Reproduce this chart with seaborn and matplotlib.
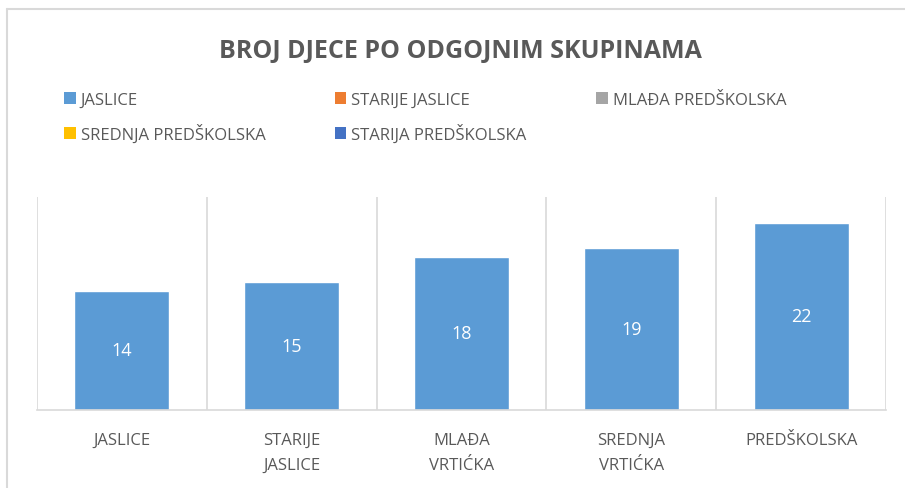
import seaborn as sns
import matplotlib.pyplot as plt
import pandas as pd
import numpy as np
from matplotlib.patches import Patch
from matplotlib.lines import Line2D

# data
groups = ["JASLICE", "STARIJE\nJASLICE", "MLAĐA\nVRTIĆKA", "SREDNJA\nVRTIĆKA", "PREDŠKOLSKA"]
children = [14, 15, 18, 19, 22]
legend_labels = ["JASLICE", "STARIJE JASLICE", "MLAĐA PREDŠKOLSKA",
                 "SREDNJA PREDŠKOLSKA", "STARIJA PREDŠKOLSKA"]
legend_colors = ["#5B9BD5", "#ED7D31", "#A5A5A5", "#FFC000", "#4472C4"]

df = pd.DataFrame({"skupina": groups, "broj": children})

sns.set_style("white")
plt.rcParams['font.family'] = ['Open Sans', 'DejaVu Sans']
txt = "#595959"
grid = "#D9D9D9"

fig = plt.figure(figsize=(9.05, 4.89), dpi=100)
ax = fig.add_axes([37/905, 78/489, 849/905, 213/489])

sns.barplot(data=df, x="skupina", y="broj", color="#5B9BD5", width=0.56,
            saturation=1, ax=ax)
ax.bar_label(ax.containers[0], label_type="center", color="white", fontsize=13)

ax.set_ylim(0, 25)
ax.set_xlim(-0.5, len(groups) - 0.5)
ax.set_xlabel("")
ax.set_ylabel("")
ax.set_yticks([])
ax.set_xticks(np.arange(-0.5, len(groups), 1), minor=True)
ax.grid(axis="x", which="minor", color=grid, linewidth=1.2)
ax.grid(axis="x", which="major", visible=False)
ax.set_axisbelow(True)
ax.tick_params(axis="x", which="both", length=0, pad=16)
for lab in ax.get_xticklabels():
    lab.set_color(txt)
    lab.set_fontsize(12)
    lab.set_linespacing(1.75)
    lab.set_verticalalignment("top")
for s in ["top", "left", "right"]:
    ax.spines[s].set_visible(False)
ax.spines["bottom"].set_color(grid)
ax.spines["bottom"].set_linewidth(1.2)

fig.text(460/905, 1 - 51/489, "BROJ DJECE PO ODGOJNIM SKUPINAMA",
         ha="center", va="center", fontsize=18, fontweight="bold", color=txt)

# legend is filled column by column
order = [0, 3, 1, 4, 2]
handles = [Patch(facecolor=legend_colors[i], edgecolor="none") for i in order]
labels = [legend_labels[i] for i in order]
fig.legend(handles, labels, ncol=3, loc="upper left",
           bbox_to_anchor=(64/905, 1 - 98/489, 722/905, 0.01), mode="expand",
           frameon=False, fontsize=12, labelcolor=txt, handlelength=0.7,
           handleheight=0.7, handletextpad=0.3, labelspacing=0.95,
           borderaxespad=0, borderpad=0)

# outer chart border (top and left visible in the crop)
fig.add_artist(Line2D([7/905, 7/905], [0, 1 - 10/489], transform=fig.transFigure,
                      color="#D9D9D9", linewidth=1.5))
fig.add_artist(Line2D([7/905, 1], [1 - 10/489, 1 - 10/489], transform=fig.transFigure,
                      color="#D9D9D9", linewidth=1.5))

fig.savefig("out.png", dpi=100)
